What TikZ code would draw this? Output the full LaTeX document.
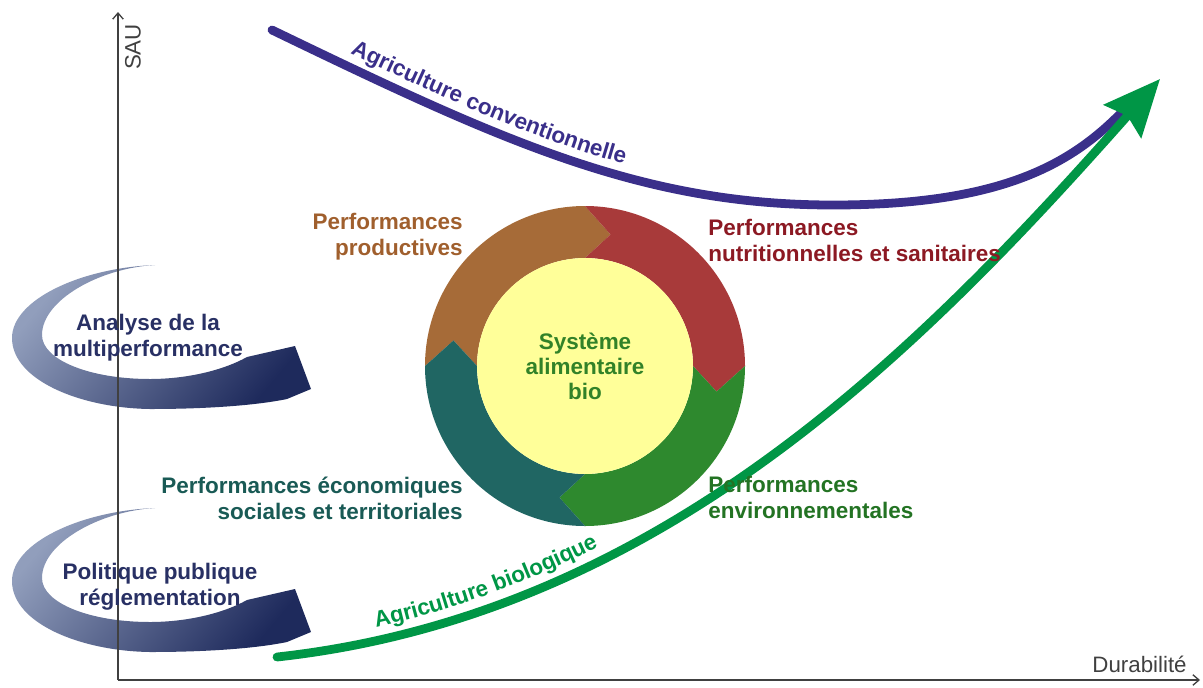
\documentclass[tikz,border=0pt]{standalone}
\usepackage{fontspec}
\setmainfont{Liberation Sans}
\usetikzlibrary{arrows.meta,decorations.text}
\definecolor{conv}{RGB}{58,47,138}
\definecolor{bio}{RGB}{0,150,70}
\definecolor{axisgray}{RGB}{64,64,64}
\definecolor{prodseg}{RGB}{166,107,56}
\definecolor{nutriseg}{RGB}{168,58,58}
\definecolor{envseg}{RGB}{46,137,46}
\definecolor{ecoseg}{RGB}{32,102,99}
\definecolor{coreyellow}{RGB}{255,255,153}
\definecolor{prodtext}{RGB}{160,95,45}
\definecolor{nutritext}{RGB}{140,25,35}
\definecolor{envtext}{RGB}{35,115,35}
\definecolor{ecotext}{RGB}{25,90,85}
\definecolor{coretext}{RGB}{50,130,40}
\definecolor{swooshlight}{RGB}{145,158,188}
\definecolor{swooshmid}{RGB}{62,76,122}
\definecolor{swooshdark}{RGB}{30,42,92}
\definecolor{swooshtext}{RGB}{40,48,100}
\tikzset{perf/.style={font=\fontsize{12.8}{14.8}\selectfont\bfseries, inner sep=0pt}}
\tikzset{axislabel/.style={font=\fontsize{12.7}{14}\selectfont, text=axisgray, inner sep=0pt}}
\tikzset{axis/.style={draw=axisgray, line width=0.75pt, -{Straight Barb[length=3.5pt,width=6pt]}}}
\tikzset{trend/.style={line width=5pt, line cap=round}}
% one swoosh, shifted down by #1
\newcommand{\swoosh}[1]{%
  \shade[top color=swooshlight, middle color=swooshmid, bottom color=swooshdark, shading angle=50, shift={(0,#1)}]
    (155,-265) .. controls (80,-268) and (12,-300) .. (12,-338)
    .. controls (12,-380) and (80,-408) .. (150,-409)
    .. controls (210,-409) and (258,-405) .. (287,-399)
    -- (311,-389) -- (295,-346) -- (247,-357)
    .. controls (222,-371) and (185,-379) .. (150,-379)
    .. controls (90,-379) and (42,-360) .. (42,-335)
    .. controls (42,-300) and (100,-268) .. (155,-265) -- cycle;}

\begin{document}
\begin{tikzpicture}[x=0.02cm,y=0.02cm]
  \useasboundingbox (0,0) rectangle (1203,-687);

  %% Swooshes on the left
  \swoosh{0}
  \swoosh{-243}

  %% Axes
  \coordinate (origin) at (118,-680);
  \coordinate (ytop) at (118,-12);
  \coordinate (xend) at (1200,-680);
  \draw[axis] (origin) -- (ytop);
  \draw[axis] (origin) -- (xend);
  \node[axislabel, rotate=90] (sau) at (133,-47) {SAU};
  \node[axislabel, anchor=east] (dura) at (1187,-664) {Durabilité};

  \node[perf, text=swooshtext, align=center] (analyse) at (148,-338) {Analyse de la\\multiperformance};
  \node[perf, text=swooshtext, align=center] (politique) at (160,-587) {Politique publique\\réglementation};

  %% Cycle
  \foreach \s/\col in {180/prodseg, 90/nutriseg, 0/envseg, 270/ecoseg}
    \fill[\col, shift={(585,-366)}] (\s:160) arc[start angle=\s, end angle=\s-90, radius=160]
      -- (\s-101:134) -- (\s-90:108) arc[start angle=\s-90, end angle=\s, radius=108]
      -- (\s-11:134) -- cycle;
  \node[circle, fill=coreyellow, minimum size=4.32cm, inner sep=0pt, text=coretext, align=center,
    font=\fontsize{12.8}{14.2}\selectfont\bfseries] (core) at (585,-366) {Système\\alimentaire\\bio};

  %% Trends
  \coordinate (convstart) at (272,-30);
  \coordinate (convlow) at (833,-205);
  \coordinate (convend) at (1122,-112);
  \draw[trend, conv] (convstart) .. controls (500,-140) and (640,-205) .. (convlow)
    .. controls (1000,-205) and (1070,-165) .. (convend);
  \path[decorate, decoration={text along path, text color=conv, raise=7pt, text align={left indent=46pt},
    text={|\fontsize{12.8}{14}\selectfont\bfseries|Agriculture conventionnelle}}]
    (convstart) .. controls (500,-140) and (640,-205) .. (convlow);

  \coordinate (biostart) at (277,-657);
  \coordinate (biotip) at (1160,-79);
  \draw[trend, bio, -{Stealth[length=32pt,width=28pt,inset=4pt]}] (biostart) .. controls (660,-615) and (920,-350) .. (biotip);
  \path[decorate, decoration={text along path, text color=bio, raise=7.5pt, text align={left indent=59pt},
    text={|\fontsize{12.8}{14}\selectfont\bfseries|Agriculture biologique}}]
    (biostart) .. controls (660,-615) and (920,-350) .. (biotip);

  %% Performances
  \node[perf, text=prodtext, align=right, anchor=east] (prod) at (463,-237) {Performances\\productives};
  \node[perf, text=nutritext, align=left, anchor=west] (nutri) at (708,-240) {Performances\\nutritionnelles et sanitaires};
  \node[perf, text=ecotext, align=right, anchor=east] (eco) at (463,-498) {Performances économiques\\sociales et territoriales};
  \node[perf, text=envtext, align=left, anchor=west] (env) at (708,-497) {Performances\\environnementales};
\end{tikzpicture}
\end{document}
